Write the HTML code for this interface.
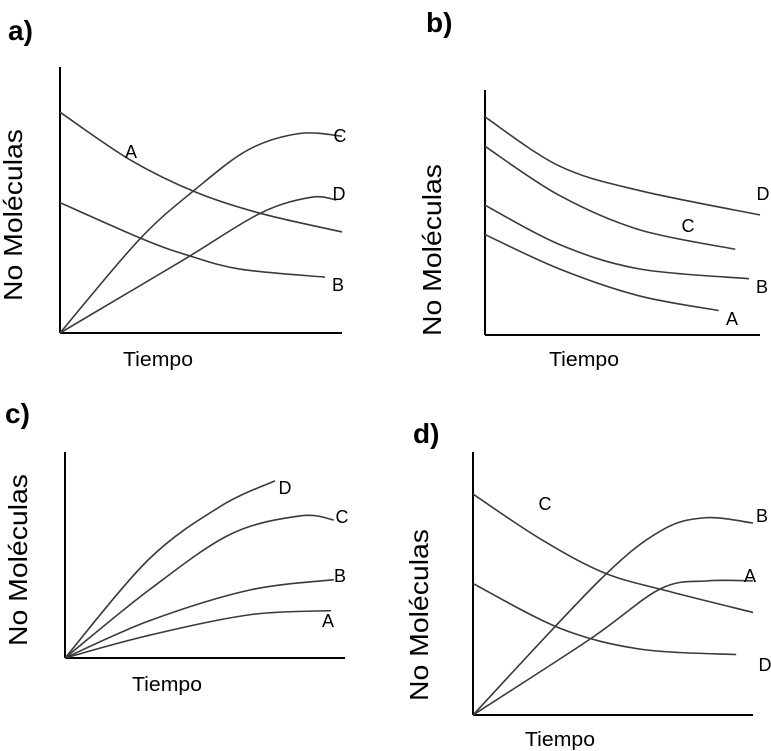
<!DOCTYPE html>
<html><head><meta charset="utf-8">
<style>
html,body{margin:0;padding:0;background:#fff;}
svg{display:block;font-family:"Liberation Sans",Arial,sans-serif;}
</style></head>
<body>
<svg id="chart" width="771" height="751" viewBox="0 0 771 751"></svg>
<script>
// Panel a data (t: 0-100 time, v: 0-100 molecules)
const aA_t=[0,25,48,71,100], aA_v=[83,65,53,45,38];
const aB_t=[0,30,46,64,94], aB_v=[49,35,29,24,21];
const aC_t=[0,28,48,67,85,100], aC_v=[0,35,54,69,75,74];
const aD_t=[0,43,71,89,98], aD_v=[0,27,45,51,50];
// Panel b
const bD_t=[0,27,56,100], bD_v=[89,69,59,49];
const bC_t=[0,27,56,91], bC_v=[77,57,43,35];
const bB_t=[0,27,56,96], bB_v=[53,37,27,23];
const bA_t=[0,27,56,85], bA_v=[41,27,16,10];
// Panel c
const cD_t=[0,30,56,75], cD_v=[0,48,74,86];
const cC_t=[0,30,59,84,96], cC_v=[0,33,60,69,67];
const cB_t=[0,30,66,96], cB_v=[0,18,33,38];
const cA_t=[0,30,66,95], cA_v=[0,11,21,23];
// Panel d
const dC_t=[0,24,47,70,100], dC_v=[84,67,54,47,39];
const dD_t=[0,31,60,94], dD_v=[50,33,25,23];
const dB_t=[0,45,67,83,100], dB_v=[0,51,70,75,73];
const dA_t=[0,42,67,84,100], dA_v=[0,29,48,51,51];

const NS="http://www.w3.org/2000/svg";
const svg=document.getElementById('chart');
function el(tag,attrs,parent){const e=document.createElementNS(NS,tag);for(const k in attrs)e.setAttribute(k,attrs[k]);(parent||svg).appendChild(e);return e;}
function smooth(pts){let d=`M${pts[0][0]},${pts[0][1]}`;for(let i=0;i<pts.length-1;i++){const p0=pts[i-1]||pts[i],p1=pts[i],p2=pts[i+1],p3=pts[i+2]||p2;
const c1=[p1[0]+(p2[0]-p0[0])/6,p1[1]+(p2[1]-p0[1])/6],c2=[p2[0]-(p3[0]-p1[0])/6,p2[1]-(p3[1]-p1[1])/6];
d+=` C${c1[0]},${c1[1]} ${c2[0]},${c2[1]} ${p2[0]},${p2[1]}`;}return d;}

const panels=[
 {id:'a',x0:60,x1:342,y0:333,y1:67,top:67,title:[8,40],tiempo:[158,366],ylab:[22,215],
  series:[['A',aA_t,aA_v,[131,158]],['B',aB_t,aB_v,[338,291]],['C',aC_t,aC_v,[340,142]],['D',aD_t,aD_v,[339,200]]]},
 {id:'b',x0:485,x1:760,y0:335,y1:90,top:90,title:[426,32],tiempo:[584,366],ylab:[441,250],
  series:[['D',bD_t,bD_v,[763,200]],['C',bC_t,bC_v,[688,232]],['B',bB_t,bB_v,[762,293]],['A',bA_t,bA_v,[732,325]]]},
 {id:'c',x0:65,x1:345,y0:658,y1:452,top:452,title:[5,423],tiempo:[167,691],ylab:[27,560],
  series:[['D',cD_t,cD_v,[285,494]],['C',cC_t,cC_v,[342,523]],['B',cB_t,cB_v,[340,582]],['A',cA_t,cA_v,[328,627]]]},
 {id:'d',x0:473,x1:753,y0:715,y1:452,top:452,title:[413,443],tiempo:[560,746],ylab:[428,615],
  series:[['C',dC_t,dC_v,[545,510]],['D',dD_t,dD_v,[765,671]],['B',dB_t,dB_v,[762,522]],['A',dA_t,dA_v,[750,582]]]}
];

panels.forEach(p=>{
  const g=el('g',{});
  
  
  const sx=t=>p.x0+(p.x1-p.x0)*t/100, sy=v=>p.y0-(p.y0-p.y1)*v/100;
  const t=el('text',{x:p.title[0],y:p.title[1],'font-size':28,'font-weight':'bold',fill:'#000'},g);
  t.textContent=p.id+')';
  
  
  const ya=el('line',{x1:p.x0,y1:p.top,x2:p.x0,y2:p.y0,stroke:'#000','stroke-width':2},g);
  
  
  const xa=el('line',{x1:p.x0,y1:p.y0,x2:p.x1,y2:p.y0,stroke:'#000','stroke-width':2},g);
  
  
  const xt=el('text',{x:p.tiempo[0],y:p.tiempo[1],'font-size':20,'text-anchor':'middle',fill:'#000',textLength:70,lengthAdjust:'spacingAndGlyphs'},g);
  xt.textContent='Tiempo';
  
  
  const yt=el('text',{x:0,y:0,'font-size':26,'text-anchor':'middle',fill:'#000',transform:`translate(${p.ylab[0]},${p.ylab[1]}) rotate(-90)`,'xml:space':'preserve',textLength:172,lengthAdjust:'spacingAndGlyphs'},g);
  yt.textContent='No  Moléculas';
  
  
  p.series.forEach(s=>{
    const pts=s[1].map((tt,i)=>[sx(tt),sy(s[2][i])]);
    const path=el('path',{d:smooth(pts),fill:'none',stroke:'#3a3a3a','stroke-width':1.6},g);
    
    
    const lb=el('text',{x:s[3][0],y:s[3][1],'font-size':18,'text-anchor':'middle',fill:'#000'},g);
    lb.textContent=s[0];
    
    
  });
});
</script>
</body></html>
